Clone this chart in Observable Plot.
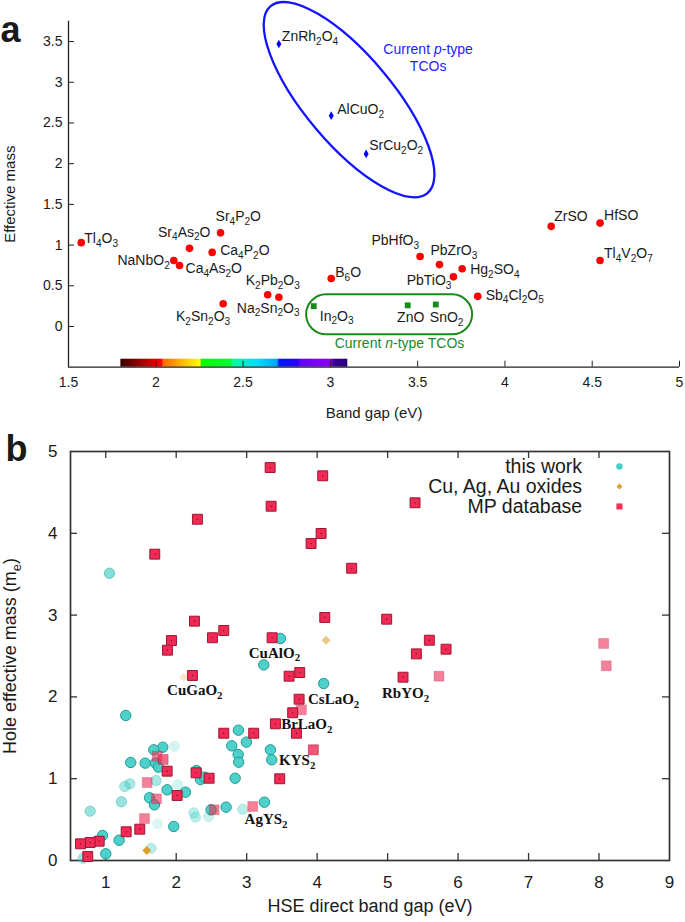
<!DOCTYPE html>
<html><head><meta charset="utf-8">
<script src="https://cdn.jsdelivr.net/npm/d3@7"></script>
<script src="https://cdn.jsdelivr.net/npm/@observablehq/plot@0.6"></script>
<style>
body{margin:0;background:#fff;}
#fig{position:relative;width:685px;height:922px;overflow:hidden;background:#fff;}
#fig svg{display:block;overflow:visible;}
</style></head><body><div id="fig"></div>
<script>
// ---------------- Panel a data ----------------
const aXTicks = [1.5, 2, 2.5, 3, 3.5, 4, 4.5, 5];
const aYTicks = [0, 0.5, 1, 1.5, 2, 2.5, 3, 3.5];

const aRedNames = ["Tl4O3","Sr4As2O","Sr4P2O","Ca4P2O","NaNbO2","Ca4As2O","K2Pb2O3","Na2Sn2O3","K2Sn2O3","B6O","PbHfO3","PbZrO3","Hg2SO4","PbTiO3","Sb4Cl2O5","ZrSO","HfSO","Tl4V2O7"];
const aRedGap  = [1.573,2.193,2.371,2.323,2.103,2.136,2.641,2.705,2.386,3.005,3.514,3.625,3.755,3.705,3.844,4.265,4.545,4.545];
const aRedMass = [1.03,0.96,1.15,0.91,0.81,0.75,0.39,0.36,0.28,0.59,0.86,0.76,0.71,0.61,0.37,1.23,1.27,0.81];

const aPNames = ["ZnRh2O4","AlCuO2","SrCu2O2"];
const aPGap   = [2.705,3.005,3.205];
const aPMass  = [3.47,2.59,2.12];

const aNNames = ["In2O3","ZnO","SnO2"];
const aNGap   = [2.905,3.443,3.604];
const aNMass  = [0.25,0.26,0.27];

// label placement (anchor, dx, dy in px)
const aRedLab = [["start",3,-4],["end",21,-16],["start",-5,-16],["start",8,-2],["end",-4,0],["start",6,3],
  ["start",-22,-14],["start",-42,11],["end",7,13],["start",4,-6],["end",-1,-16],["start",-9,-14],
  ["start",8,1],["end",-2,4],["start",8,-1],["start",3,-10],["start",4,-8],["start",4,-7]];
const aPLab = [["start",3,-7],["start",6,-6],["start",3,-8]];
const aNLab = [["start",6,10],["middle",3,12],["start",-6,13]];

// visible-spectrum colour bar (photon energy in eV)
const specRange = [1.8, 3.1];
const specE = [1.80,2.035,2.045,2.15,2.255,2.265,2.43,2.445,2.58,2.695,2.71,2.815,2.83,3.005,3.02,3.10];
const specC = ["#3a0000","#ff0000","#ff6a00","#ffb400","#ffff00","#00ff00","#00ff30","#00ff9c","#00dcff","#00a8ff","#0018ff","#2a00ff","#6400ff","#8a00ff","#3a0098","#280078"];

// annotation shapes
const pEllipse = {cx: 3.11, cy: 2.78, rx: 122, ry: 44, angle: 50};
const nBox = {x1: 2.864, x2: 3.815, y1: -0.102, y2: 0.389};

// ---------------- Panel b data ----------------
const bXTicks = [1,2,3,4,5,6,7,8,9];
const bYTicks = [0,1,2,3,4,5];

const twGap  = [1.053,3.479,3.242,4.093,1.284,2.883,2.996,2.788,2.879,2.887,3.337,3.355,2.836,1.809,1.682,1.706,1.748,1.355,1.56,1.975,2.287,2.344,2.4,2.131,1.871,1.621,1.691,2.022,1.715,1.341,1.27,1.223,0.779,2.249,2.273,2.462,2.495,2.708,2.944,3.252,1.965,1.738,0.954,1.19,1.001,1.645,0.68];
const twMass = [3.512,2.714,2.392,2.164,1.773,1.593,1.447,1.402,1.296,1.202,1.353,1.231,1.006,1.385,1.353,1.19,1.141,1.198,1.19,1.397,1.1,0.99,1.019,0.835,0.864,0.767,0.681,0.929,0.978,0.938,0.905,0.718,0.603,0.583,0.53,0.538,0.62,0.652,0.627,0.713,0.416,0.449,0.306,0.248,0.082,0.15,0.028];
const twAlpha= [0.7,1,1,1,1,1,1,1,1,1,1,1,1,1,1,1,1,1,1,0.25,1,1,1,1,1,1,1,0.25,0.5,0.5,0.5,0.6,0.6,0.4,0.4,0.3,1,1,0.4,1,1,0.2,1,1,1,0.4,0.5];

const cuGap  = [4.126,2.103,1.582];
const cuMass = [2.693,2.241,0.122];
const cuAlpha= [0.6,0.25,1];

const mpGap  = [3.333,4.079,3.347,2.301,4.056,3.914,1.696,4.49,5.389,4.108,4.987,5.592,5.829,5.408,5.219,5.729,8.065,8.103,3.946,2.259,2.675,2.514,1.933,1.876,3.361,2.23,3.602,3.753,3.744,3.777,3.653,3.408,3.706,2.675,3.1,3.469,1.73,1.815,1.871,2.282,2.467,1.588,2.013,1.72,2.538,3.086,1.55,1.483,1.29,0.907,0.779,0.642,0.745];
const mpMass = [4.804,4.703,4.331,4.172,3.998,3.875,3.745,3.573,4.373,2.971,2.95,2.693,2.583,2.526,2.241,2.253,2.653,2.38,1.353,2.926,2.812,2.723,2.689,2.571,2.723,2.262,2.253,2.298,1.972,1.842,1.806,1.671,1.556,1.556,1.556,0.999,1.275,1.235,1.092,1.072,1.006,0.954,0.795,0.754,0.62,0.66,0.513,0.383,0.351,0.236,0.22,0.204,0.049];
const mpAlpha= [1,1,1,1,1,1,1,1,1,1,1,1,1,1,1,0.6,0.6,0.6,0.8,1,1,1,1,1,1,1,1,1,1,0.6,1,1,1,1,1,1,0.6,0.7,1,1,1,0.6,1,0.6,0.6,0.6,0.6,1,1,1,1,1,1];

const bLabNames = ["CuAlO2","CuGaO2","CsLaO2","BrLaO2","KYS2","AgYS2","RbYO2"];
const bLabGap   = [3.03,1.87,3.87,3.49,3.46,2.97,4.92];
const bLabMass  = [2.54,2.08,1.97,1.67,1.23,0.505,2.05];

const legendLabels = ["this work","Cu, Ag, Au oxides","MP database"];
const legendSymbols = ["circle","diamond2","square"];
const legendColors = ["#45cfc7","#d9a12c","#f23358"];

// ---------------- helpers ----------------
const zip = (...arrs) => arrs[0].map((_, i) => arrs.map(a => a[i]));
const teal = "#45cfc7", tealEdge = "#1f9b94";
const crimson = "#f02a55", crimsonEdge = "#9e1633";
const gold = "#d9a12c";

function enrich(svg) {
  svg.querySelectorAll("text").forEach(t => {
    if (t.querySelector("tspan")) return;
    let s = t.textContent;
    if (/^[A-Z][A-Za-z0-9]*$/.test(s) && /\d/.test(s)) s = s.replace(/(\d+)/g, "_{$1}");
    if (!/(_\{|\*)/.test(s)) return;
    const fs = parseFloat(getComputedStyle(t).fontSize) || 14;
    const parts = s.split(/(_\{[^}]*\}|\*[^*]*\*)/).filter(p => p);
    t.textContent = "";
    let shift = 0;
    for (const p of parts) {
      const ts = document.createElementNS("http://www.w3.org/2000/svg", "tspan");
      if (p.startsWith("_{")) {
        ts.textContent = p.slice(2, -1);
        ts.setAttribute("font-size", (fs * 0.72).toFixed(2));
        const d = fs * 0.26;
        if (d - shift) ts.setAttribute("dy", (d - shift).toFixed(2));
        shift = d;
      } else {
        ts.textContent = p.startsWith("*") ? p.slice(1, -1) : p;
        if (p.startsWith("*")) ts.setAttribute("font-style", "italic");
        if (shift) { ts.setAttribute("dy", (-shift).toFixed(2)); shift = 0; }
      }
      t.appendChild(ts);
    }
  });
}

// ---------------- Panel a ----------------
const A = {width: 685, height: 425, ml: 68, mr: 6, mt: 20.7, mb: 58.3};
const aW = A.width - A.ml - A.mr, aH = A.height - A.mt - A.mb;

const redPts = zip(aRedNames, aRedGap, aRedMass, aRedLab).map(([n, x, y, l]) => ({n, x, y, l}));
const pPts = zip(aPNames, aPGap, aPMass, aPLab).map(([n, x, y, l]) => ({n, x, y, l}));
const nPts = zip(aNNames, aNGap, aNMass, aNLab).map(([n, x, y, l]) => ({n, x, y, l}));

const labelMarks = (pts, fill) => pts.map(d => Plot.text([d], {x: "x", y: "y", text: "n", textAnchor: d.l[0], dx: d.l[1], dy: d.l[2], fill}));

const ellipseMark = (index, scales) => {
  const g = d3.create("svg:g");
  const X = scales.x(pEllipse.cx), Y = scales.y(pEllipse.cy);
  g.append("ellipse").attr("cx", X).attr("cy", Y).attr("rx", pEllipse.rx).attr("ry", pEllipse.ry)
    .attr("transform", `rotate(${pEllipse.angle},${X},${Y})`)
    .attr("fill", "none").attr("stroke", "#1414ff").attr("stroke-width", 2.3);
  return g.node();
};

const plotA = Plot.plot({
  width: A.width, height: A.height,
  marginLeft: A.ml, marginRight: A.mr, marginTop: A.mt, marginBottom: A.mb,
  style: {fontFamily: "'Liberation Sans', Arial, sans-serif", fontSize: "14px", color: "#1a1a1a", background: "white"},
  x: {domain: [1.5, 5], ticks: aXTicks, tickFormat: d => String(d), tickSize: 0, tickPadding: 10, label: null},
  y: {domain: [-0.5, 3.75], ticks: aYTicks, tickFormat: d => String(d), tickSize: 0, tickPadding: 6, label: null},
  marks: [
    Plot.rect([specRange], {x1: d => d[0], x2: d => d[1], insetTop: aH - 8, fill: "url(#spectrum)"}),
    Plot.ruleX([1.5], {stroke: "#222", strokeWidth: 1.3}),
    Plot.ruleY([-0.5], {stroke: "#222", strokeWidth: 1.3}),
    Plot.tickY(aYTicks, {y: d => d, insetRight: aW - 6, stroke: "#222"}),
    Plot.tickX(aXTicks.filter(d => d > 1.5), {x: d => d, insetTop: aH - 6, stroke: "#222"}),
    ellipseMark,
    Plot.rect([nBox], {x1: "x1", x2: "x2", y1: "y1", y2: "y2", rx: 20, fill: "none", stroke: "#1b8a1b", strokeWidth: 2}),
    Plot.dot(redPts, {x: "x", y: "y", r: 3.8, fill: "#ff0000"}),
    Plot.dot(pPts, {x: "x", y: "y", r: 2.6, symbol: "diamond", fill: "#0000ff"}),
    Plot.dot(nPts, {x: "x", y: "y", r: 3.3, symbol: "square", fill: "#158c15"}),
    ...labelMarks(redPts, "#1a1a1a"),
    ...labelMarks(pPts, "#1a1a1a"),
    ...labelMarks(nPts, "#1a1a1a"),
    Plot.text(["Current *p*-type"], {x: 3.56, y: 3.40, text: d => d, fill: "#2222ff"}),
    Plot.text(["TCOs"], {x: 3.56, y: 3.195, text: d => d, fill: "#2222ff"}),
    Plot.text(["Current *n*-type TCOs"], {x: 3.396, y: -0.213, text: d => d, fill: "#1b8a1b"}),
    Plot.text(["Effective mass"], {frameAnchor: "left", rotate: -90, dx: -58, text: d => d, textAnchor: "middle", lineAnchor: "middle", fontSize: 15}),
    Plot.text(["Band gap (eV)"], {frameAnchor: "bottom", dy: 45.7, text: d => d, textAnchor: "middle", lineAnchor: "middle", fontSize: 15}),
    Plot.text(["a"], {frameAnchor: "top-left", dx: -A.ml, dy: 9.5, text: d => d, textAnchor: "start", lineAnchor: "middle", fontSize: 36, fontWeight: "bold"})
  ]
});

// ---------------- Panel b ----------------
const B = {width: 685, height: 497, ml: 70, mr: 16, mt: 26, mb: 62};
const bW = B.width - B.ml - B.mr, bH = B.height - B.mt - B.mb;

const twPts = zip(twGap, twMass, twAlpha).map(([x, y, a]) => ({x, y, a}));
const cuPts = zip(cuGap, cuMass, cuAlpha).map(([x, y, a]) => ({x, y, a}));
const mpPts = zip(mpGap, mpMass, mpAlpha).map(([x, y, a]) => ({x, y, a}));
const bLabs = zip(bLabNames, bLabGap, bLabMass).map(([n, x, y]) => ({n, x, y}));
const legend = zip(legendLabels, legendSymbols, legendColors).map(([t, s, c], i) => ({t, s, c, i}));
const legendTextX = 7.76, legendSymX = 8.29, legendRowY = [4.817, 4.572, 4.328];

const plotB = Plot.plot({
  width: B.width, height: B.height,
  marginLeft: B.ml, marginRight: B.mr, marginTop: B.mt, marginBottom: B.mb,
  style: {fontFamily: "'Liberation Sans', Arial, sans-serif", fontSize: "17px", color: "#1a1a1a", background: "white"},
  x: {domain: [0.5, 9], ticks: bXTicks, tickFormat: d => String(d), tickSize: 0, tickPadding: 15, label: null},
  y: {domain: [0, 5], ticks: bYTicks, tickFormat: d => String(d), tickSize: 0, tickPadding: 13, label: null},
  marks: [
    Plot.frame({stroke: "#333", strokeWidth: 1.7}),
    Plot.tickX(bXTicks.filter(d => d < 9), {x: d => d, insetTop: bH - 7, stroke: "#333", strokeWidth: 1.3}),
    Plot.tickX(bXTicks.filter(d => d < 9), {x: d => d, insetBottom: bH - 7, stroke: "#333", strokeWidth: 1.3}),
    Plot.tickY(bYTicks.filter(d => d > 0 && d < 5), {y: d => d, insetRight: bW - 7, stroke: "#333", strokeWidth: 1.3}),
    Plot.tickY(bYTicks.filter(d => d > 0 && d < 5), {y: d => d, insetLeft: bW - 7, stroke: "#333", strokeWidth: 1.3}),
    Plot.dot(twPts, {x: "x", y: "y", r: 5.2, fill: teal, stroke: tealEdge, strokeWidth: 1, fillOpacity: d => d.a * 0.95, strokeOpacity: d => d.a * d.a}),
    Plot.dot(cuPts, {x: "x", y: "y", r: 4, symbol: "diamond2", fill: gold, fillOpacity: "a"}),
    Plot.dot(mpPts, {x: "x", y: "y", r: 5.6, symbol: "square", fill: crimson, stroke: crimsonEdge, strokeWidth: 1, fillOpacity: d => d.a, strokeOpacity: d => d.a * d.a * d.a}),
    Plot.dot(mpPts.filter(d => d.a === 1), {x: "x", y: "y", r: 0.6, fill: "#5a0010"}),
    Plot.text(bLabs, {x: "x", y: "y", text: "n", textAnchor: "start", fontFamily: "'Liberation Serif', 'Times New Roman', serif", fontWeight: "bold", fontSize: 15, fill: "#111"}),
    Plot.text(legend, {x: legendTextX, y: d => legendRowY[d.i], text: "t", textAnchor: "end", fontSize: 19.5}),
    Plot.dot(legend, {x: legendSymX, y: d => legendRowY[d.i], symbol: "s", fill: "c", r: d => d.s === "circle" ? 4.9 : d.s === "square" ? 5.5 : 3.4}),
    Plot.text(["HSE direct band gap (eV)"], {frameAnchor: "bottom", dy: 46, text: d => d, textAnchor: "middle", lineAnchor: "middle", fontSize: 18}),
    Plot.text(["Hole effective mass (m_{e})"], {frameAnchor: "left", rotate: -90, dx: -60, text: d => d, textAnchor: "middle", lineAnchor: "middle", fontSize: 18}),
    Plot.text(["b"], {frameAnchor: "top-left", dx: -65, dy: -2.5, text: d => d, textAnchor: "start", lineAnchor: "middle", fontSize: 36, fontWeight: "bold"})
  ]
});

const fig = document.getElementById("fig");
fig.appendChild(plotA);
fig.appendChild(plotB);

// spectrum gradient definition
const defs = d3.select(plotA).insert("defs", ":first-child");
const grad = defs.append("linearGradient").attr("id", "spectrum").attr("x1", "0").attr("x2", "1").attr("y1", "0").attr("y2", "0");
specE.forEach((e, i) => grad.append("stop")
  .attr("offset", ((e - specRange[0]) / (specRange[1] - specRange[0])).toFixed(4))
  .attr("stop-color", specC[i]));

enrich(plotA);
enrich(plotB);
</script>
</body></html>
